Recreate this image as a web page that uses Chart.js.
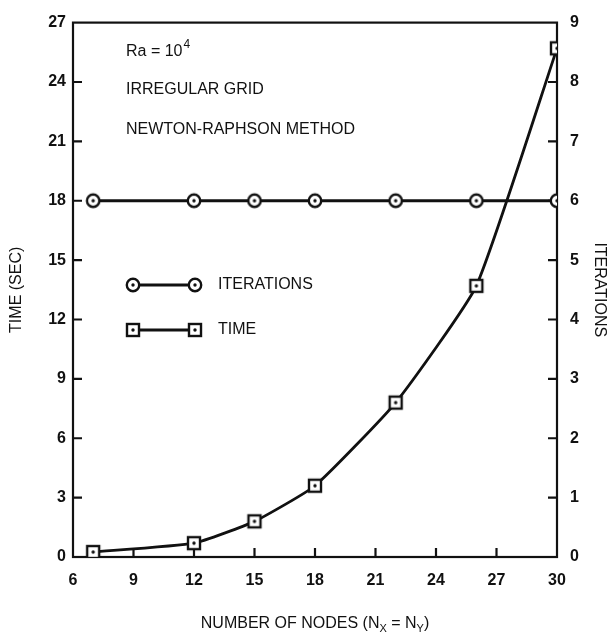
<!DOCTYPE html>
<html>
<head>
<meta charset="utf-8">
<script src="https://cdn.jsdelivr.net/npm/chart.js@4/dist/chart.umd.min.js"></script>
<style>
    body { margin: 0; background: #fff; }
    #chart { display: block; }
</style>
</head>
<body>
<canvas id="chart" width="609" height="636"></canvas>
<script>
// values
const nodes = [7, 12, 15, 18, 22, 26, 30];
const timeSec = [0.25, 0.7, 1.8, 3.6, 7.8, 13.7, 25.7];
const iterations = [6, 6, 6, 6, 6, 6, 6];

const xTicks = [6, 9, 12, 15, 18, 21, 24, 27, 30];
const timeTicks = [0, 3, 6, 9, 12, 15, 18, 21, 24, 27];
const iterTicks = [0, 1, 2, 3, 4, 5, 6, 7, 8, 9];

const notes = ['IRREGULAR GRID', 'NEWTON-RAPHSON METHOD'];

const FONT = "'Liberation Sans', Arial, sans-serif";
const INK = '#111';

function markerImage(shape) {
    const c = document.createElement('canvas');
    c.width = 18;
    c.height = 18;
    const g = c.getContext('2d');
    g.lineWidth = 2.4;
    g.strokeStyle = INK;
    g.fillStyle = '#fff';
    if (shape === 'circle') {
        g.beginPath();
        g.arc(9, 9, 6.2, 0, Math.PI * 2);
        g.fill();
        g.stroke();
    } else {
        g.fillRect(3, 3, 12, 12);
        g.strokeRect(3, 3, 12, 12);
    }
    g.fillStyle = INK;
    g.beginPath();
    g.arc(9, 9, 1.7, 0, Math.PI * 2);
    g.fill();
    return c;
}

const circleMark = markerImage('circle');
const squareMark = markerImage('square');

// frame + inward tick marks
const frame = {
    id: 'frame',
    beforeDatasetsDraw(chart) {
        const { ctx, chartArea: a, scales } = chart;
        ctx.save();
        ctx.strokeStyle = INK;
        ctx.lineWidth = 2.2;
        ctx.strokeRect(a.left, a.top, a.right - a.left, a.bottom - a.top);
        ctx.beginPath();
        xTicks.slice(1, -1).forEach(v => {
            const x = scales.x.getPixelForValue(v);
            ctx.moveTo(x, a.bottom);
            ctx.lineTo(x, a.bottom - 9);
        });
        timeTicks.slice(1, -1).forEach(v => {
            const y = scales.y.getPixelForValue(v);
            ctx.moveTo(a.left, y);
            ctx.lineTo(a.left + 9, y);
        });
        iterTicks.slice(1, -1).forEach(v => {
            const y = scales.y1.getPixelForValue(v);
            ctx.moveTo(a.right, y);
            ctx.lineTo(a.right - 9, y);
        });
        ctx.stroke();
        ctx.restore();
    }
};

// notes, legend and x title (with sub/superscripts)
const texts = {
    id: 'texts',
    afterDraw(chart) {
        const { ctx, chartArea: a } = chart;
        ctx.save();
        ctx.fillStyle = INK;
        ctx.textBaseline = 'middle';
        ctx.textAlign = 'left';

        ctx.font = '16px ' + FONT;
        ctx.fillText('Ra = 10', 126, 52);
        let w = ctx.measureText('Ra = 10').width;
        ctx.font = '12px ' + FONT;
        ctx.fillText('4', 126 + w + 1, 45);

        ctx.font = '16px ' + FONT;
        ctx.fillText(notes[0], 126, 90);
        ctx.fillText(notes[1], 126, 130);

        // legend
        const rows = [
            { label: 'ITERATIONS', y: 285, img: circleMark },
            { label: 'TIME', y: 330, img: squareMark }
        ];
        rows.forEach(r => {
            ctx.strokeStyle = INK;
            ctx.lineWidth = 2.8;
            ctx.beginPath();
            ctx.moveTo(133, r.y);
            ctx.lineTo(195, r.y);
            ctx.stroke();
            ctx.drawImage(r.img, 133 - 9, r.y - 9);
            ctx.drawImage(r.img, 195 - 9, r.y - 9);
            ctx.fillText(r.label, 218, r.y);
        });

        // x axis title: NUMBER OF NODES (N_X = N_Y)
        const parts = [
            ['NUMBER OF NODES (N', 0], ['X', 1], [' = N', 0], ['Y', 1], [')', 0]
        ];
        const fontFor = sub => (sub ? '11px ' : '16px ') + FONT;
        let total = 0;
        parts.forEach(p => { ctx.font = fontFor(p[1]); total += ctx.measureText(p[0]).width; });
        let x = (a.left + a.right) / 2 - total / 2;
        parts.forEach(p => {
            ctx.font = fontFor(p[1]);
            ctx.fillText(p[0], x, p[1] ? 629 : 624);
            x += ctx.measureText(p[0]).width;
        });
        ctx.restore();
    }
};

new Chart(document.getElementById('chart'), {
    type: 'line',
    data: {
        datasets: [
            {
                label: 'ITERATIONS',
                data: nodes.map((n, i) => ({ x: n, y: iterations[i] })),
                yAxisID: 'y1',
                borderColor: INK,
                borderWidth: 2.8,
                pointStyle: circleMark,
                tension: 0
            },
            {
                label: 'TIME',
                data: nodes.map((n, i) => ({ x: n, y: timeSec[i] })),
                yAxisID: 'y',
                borderColor: INK,
                borderWidth: 2.8,
                pointStyle: squareMark,
                tension: 0.15
            }
        ]
    },
    options: {
        responsive: false,
        animation: false,
        devicePixelRatio: 1,
        layout: { padding: { top: 15, left: 0, right: 0, bottom: 0 } },
        plugins: {
            legend: { display: false },
            tooltip: { enabled: false }
        },
        scales: {
            x: {
                type: 'linear',
                min: 6,
                max: 30,
                grid: { display: false, drawTicks: false },
                border: { display: false },
                ticks: {
                    stepSize: 3,
                    autoSkip: false,
                    maxRotation: 0,
                    padding: 14,
                    color: INK,
                    font: { family: FONT, size: 16, weight: 'bold' }
                },
                afterFit(scale) { scale.height = 79; }
            },
            y: {
                position: 'left',
                min: 0,
                max: 27,
                grid: { display: false, drawTicks: false },
                border: { display: false },
                ticks: {
                    stepSize: 3,
                    padding: 7,
                    color: INK,
                    font: { family: FONT, size: 16, weight: 'bold' }
                },
                title: {
                    display: true,
                    text: 'TIME (SEC)',
                    color: INK,
                    padding: { top: 7, bottom: 0 },
                    font: { family: FONT, size: 16 }
                },
                afterFit(scale) { scale.width = 73; }
            },
            y1: {
                position: 'right',
                min: 0,
                max: 9,
                grid: { display: false, drawTicks: false },
                border: { display: false },
                ticks: {
                    stepSize: 1,
                    padding: 13,
                    color: INK,
                    font: { family: FONT, size: 16, weight: 'bold' }
                },
                title: {
                    display: true,
                    text: 'ITERATIONS',
                    color: INK,
                    padding: { top: 0, bottom: 0 },
                    font: { family: FONT, size: 16 }
                },
                afterFit(scale) { scale.width = 52; }
            }
        }
    },
    plugins: [frame, texts]
});
</script>
</body>
</html>
